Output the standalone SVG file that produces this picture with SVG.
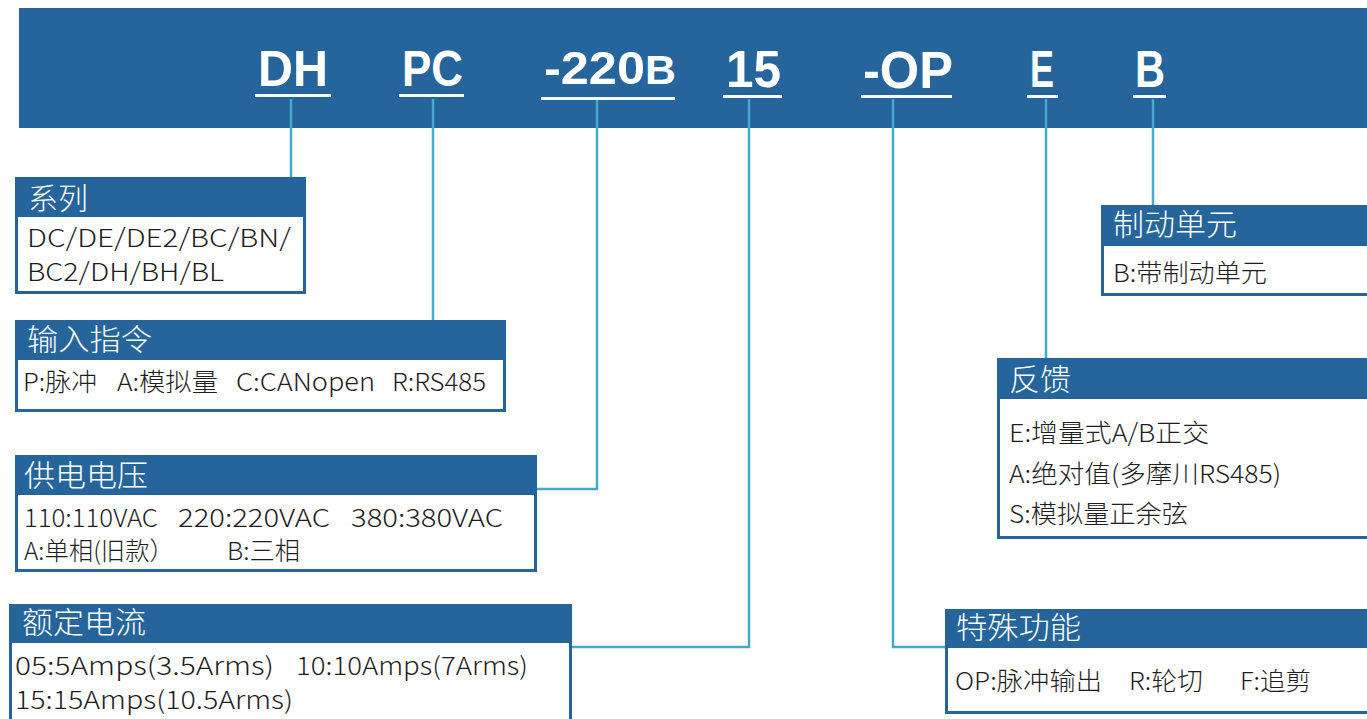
<svg xmlns="http://www.w3.org/2000/svg" width="1367" height="719" viewBox="0 0 1367 719">
<style>
.banner{fill:#25659b}
.code{font-family:"Liberation Sans","Noto Sans",sans-serif;font-weight:bold;fill:#ffffff}
.ul{fill:#ffffff}
.box{fill:#ffffff;stroke:#25659b;stroke-width:3}
.hdr{fill:#25659b}
.ht{font-family:"Noto Sans CJK SC","Noto Sans",sans-serif;font-size:30px;font-weight:300;fill:#ffffff}
.bt{font-family:"Noto Sans CJK SC","Noto Sans",sans-serif;font-size:25px;font-weight:300;fill:#1e1e1e}
.conn{fill:none;stroke:#45a9c9;stroke-width:2.5}
</style>
<rect width="1367" height="719" fill="#ffffff"/>
<g id="banner">
<rect class="banner" x="19" y="8" width="1348" height="120"/>
<text class="code" x="258" y="86" font-size="50" textLength="70" lengthAdjust="spacingAndGlyphs">DH</text>
<rect class="ul" x="255" y="94" width="76" height="3"/>
<text class="code" x="402" y="86" font-size="50" textLength="61" lengthAdjust="spacingAndGlyphs">PC</text>
<rect class="ul" x="399" y="94" width="65" height="3"/>
<text class="code" x="544" y="84" font-size="47" textLength="132" lengthAdjust="spacingAndGlyphs">-220<tspan font-size="40">B</tspan></text>
<rect class="ul" x="541" y="97" width="134" height="3"/>
<text class="code" x="726" y="87" font-size="52" textLength="55" lengthAdjust="spacingAndGlyphs">15</text>
<rect class="ul" x="723" y="95" width="59" height="3"/>
<text class="code" x="863" y="87.5" font-size="52" textLength="90" lengthAdjust="spacingAndGlyphs">-OP</text>
<rect class="ul" x="861" y="95" width="91" height="3"/>
<text class="code" x="1030" y="87" font-size="52" textLength="24" lengthAdjust="spacingAndGlyphs">E</text>
<rect class="ul" x="1027" y="95" width="31" height="3"/>
<text class="code" x="1135" y="87" font-size="52" textLength="30" lengthAdjust="spacingAndGlyphs">B</text>
<rect class="ul" x="1133" y="95" width="33" height="3"/>
</g>
<g id="connectors">
<path class="conn" d="M291 99V177"/>
<path class="conn" d="M433 99V320"/>
<path class="conn" d="M597 100V489H537"/>
<path class="conn" d="M749 99V647H572"/>
<path class="conn" d="M893 99V647H945"/>
<path class="conn" d="M1046 99V358"/>
<path class="conn" d="M1153 99V205"/>
</g>
<g id="series">
<rect class="box" x="16.5" y="178.5" width="288" height="114"/>
<rect class="hdr" x="15" y="177" width="291" height="40"/>
<text class="ht" x="28" y="209" textLength="60" lengthAdjust="spacingAndGlyphs">系列</text>
<text class="bt" x="27" y="247" textLength="264" lengthAdjust="spacingAndGlyphs">DC/DE/DE2/BC/BN/</text>
<text class="bt" x="27" y="281" textLength="197" lengthAdjust="spacingAndGlyphs">BC2/DH/BH/BL</text>
</g>
<g id="input">
<rect class="box" x="16.5" y="321.5" width="488" height="89"/>
<rect class="hdr" x="15" y="320" width="491" height="40"/>
<text class="ht" x="27" y="350" textLength="125" lengthAdjust="spacingAndGlyphs">输入指令</text>
<text class="bt" x="23" y="391" textLength="74" lengthAdjust="spacingAndGlyphs">P:脉冲</text>
<text class="bt" x="117" y="391" textLength="101" lengthAdjust="spacingAndGlyphs">A:模拟量</text>
<text class="bt" x="236" y="391" textLength="139" lengthAdjust="spacingAndGlyphs">C:CANopen</text>
<text class="bt" x="392" y="391" textLength="94" lengthAdjust="spacingAndGlyphs">R:RS485</text>
</g>
<g id="voltage">
<rect class="box" x="16.5" y="456.5" width="519" height="114"/>
<rect class="hdr" x="15" y="455" width="522" height="40"/>
<text class="ht" x="24" y="486" textLength="124" lengthAdjust="spacingAndGlyphs">供电电压</text>
<text class="bt" x="24" y="527" textLength="134" lengthAdjust="spacingAndGlyphs">110:110VAC</text>
<text class="bt" x="178" y="527" textLength="152" lengthAdjust="spacingAndGlyphs">220:220VAC</text>
<text class="bt" x="351" y="527" textLength="152" lengthAdjust="spacingAndGlyphs">380:380VAC</text>
<text class="bt" x="24" y="560" textLength="150" lengthAdjust="spacingAndGlyphs">A:单相(旧款）</text>
<text class="bt" x="227" y="560" textLength="73" lengthAdjust="spacingAndGlyphs">B:三相</text>
</g>
<g id="current">
<rect class="box" x="10.5" y="605.5" width="560" height="120"/>
<rect class="hdr" x="9" y="604" width="563" height="39"/>
<text class="ht" x="22" y="633" textLength="124" lengthAdjust="spacingAndGlyphs">额定电流</text>
<text class="bt" x="15" y="675" textLength="259" lengthAdjust="spacingAndGlyphs">05:5Amps(3.5Arms)</text>
<text class="bt" x="296" y="675" textLength="232" lengthAdjust="spacingAndGlyphs">10:10Amps(7Arms)</text>
<text class="bt" x="15" y="709" textLength="278" lengthAdjust="spacingAndGlyphs">15:15Amps(10.5Arms)</text>
</g>
<g id="brake">
<rect class="box" x="1102.5" y="206.5" width="270" height="88"/>
<rect class="hdr" x="1101" y="205" width="266" height="41"/>
<text class="ht" x="1113" y="235" textLength="124" lengthAdjust="spacingAndGlyphs">制动单元</text>
<text class="bt" x="1113" y="282" textLength="154" lengthAdjust="spacingAndGlyphs">B:带制动单元</text>
</g>
<g id="feedback">
<rect class="box" x="998.5" y="359.5" width="374" height="178"/>
<rect class="hdr" x="997" y="358" width="370" height="41"/>
<text class="ht" x="1009" y="390" textLength="62" lengthAdjust="spacingAndGlyphs">反馈</text>
<text class="bt" x="1009" y="441.5" textLength="200" lengthAdjust="spacingAndGlyphs">E:增量式A/B正交</text>
<text class="bt" x="1009" y="482.5" textLength="272" lengthAdjust="spacingAndGlyphs">A:绝对值(多摩川RS485)</text>
<text class="bt" x="1009" y="523" textLength="179" lengthAdjust="spacingAndGlyphs">S:模拟量正余弦</text>
</g>
<g id="special">
<rect class="box" x="946.5" y="610.5" width="426" height="102"/>
<rect class="hdr" x="945" y="609" width="422" height="39"/>
<text class="ht" x="956" y="638" textLength="125" lengthAdjust="spacingAndGlyphs">特殊功能</text>
<text class="bt" x="955" y="690" textLength="147" lengthAdjust="spacingAndGlyphs">OP:脉冲输出</text>
<text class="bt" x="1129" y="690" textLength="74" lengthAdjust="spacingAndGlyphs">R:轮切</text>
<text class="bt" x="1240" y="690" textLength="71" lengthAdjust="spacingAndGlyphs">F:追剪</text>
</g>
</svg>
